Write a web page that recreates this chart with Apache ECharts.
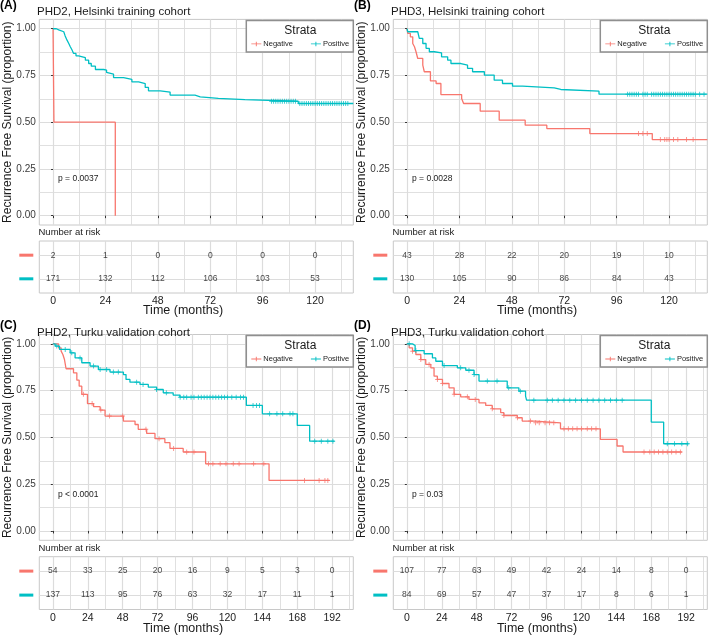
<!DOCTYPE html>
<html>
<head>
<meta charset="utf-8">
<title>Recurrence free survival by PHD2 / PHD3 status</title>
<script src="https://cdn.jsdelivr.net/npm/echarts@6/dist/echarts.min.js"></script>
<style>
  html, body { margin: 0; padding: 0; background: #fff; }
  #chart { width: 709px; height: 636px; }
</style>
</head>
<body>
<div id="chart"></div>
<script>
// Kaplan-Meier step points, [months, survival proportion]
const phd2HelsNeg = [[0, 1], [0.4, 0.5], [28.5, 0]];
const phd2HelsPos = [[0, 1], [1.5, 0.994], [2.6, 0.984], [4.9, 0.975], [5.5, 0.963], [6.4, 0.939], [7.2, 0.921],
  [7.9, 0.904], [8.7, 0.886], [9.4, 0.868], [10.5, 0.855], [11.7, 0.845], [14.8, 0.832], [16.3, 0.814],
  [17.5, 0.8], [19.4, 0.782], [23.2, 0.779], [24.5, 0.766], [25.4, 0.757], [27.7, 0.739], [32.3, 0.729],
  [36.1, 0.716], [39.2, 0.707], [42.2, 0.686], [43.7, 0.668], [49.1, 0.661], [53.6, 0.645], [65, 0.636],
  [67.4, 0.627], [75.7, 0.621], [87.9, 0.612], [112.3, 0.6], [137.5, 0.6]];

const phd3HelsNeg = [[0, 1], [0.3, 0.975], [1.5, 0.957], [2.6, 0.921], [3.4, 0.904], [4.1, 0.877], [4.9, 0.841],
  [7.2, 0.805], [7.9, 0.77], [10.7, 0.721], [13.3, 0.707], [15.5, 0.648], [25, 0.627], [25.9, 0.6],
  [33.5, 0.559], [42.2, 0.511], [54.1, 0.484], [64, 0.466], [83.7, 0.439], [112.3, 0.407], [137.5, 0.407]];
const phd3HelsPos = [[0, 1], [0.3, 0.984], [4.9, 0.975], [5.6, 0.948], [7.2, 0.921], [8.7, 0.895], [10.2, 0.877],
  [12.5, 0.871], [15.8, 0.85], [18.6, 0.832], [20.1, 0.814], [24.7, 0.805], [27.7, 0.788], [30, 0.77],
  [35.4, 0.752], [39.9, 0.725], [43.7, 0.707], [48.3, 0.693], [52.9, 0.684], [67.4, 0.675], [70.4, 0.666],
  [87.9, 0.65], [137.5, 0.65]];

const phd2TurkuNeg = [[0, 1], [3.9, 0.979], [5.7, 0.961], [6.9, 0.943], [8, 0.916], [9.1, 0.867], [14.2, 0.845],
  [16.5, 0.806], [18.1, 0.774], [19.9, 0.73], [23.8, 0.681], [28, 0.664], [32.5, 0.646], [35.9, 0.614],
  [48.5, 0.587], [56.5, 0.569], [58.7, 0.543], [64.5, 0.521], [70.2, 0.493], [77, 0.472], [80.5, 0.441],
  [89.6, 0.422], [105, 0.359], [148.6, 0.27], [190.2, 0.27]];
const phd2TurkuPos = [[0, 1], [1.6, 0.988], [4.6, 0.97], [11.9, 0.952], [15.3, 0.925], [19.9, 0.899], [25.6, 0.881],
  [31.3, 0.863], [39.3, 0.849], [48.5, 0.836], [50.3, 0.81], [53, 0.795], [59.9, 0.783], [65.6, 0.769],
  [71.3, 0.756], [75.9, 0.738], [82.7, 0.726], [87.3, 0.715], [133, 0.671], [144, 0.626], [168, 0.564],
  [176.5, 0.48], [193.6, 0.48]];

const phd3TurkuNeg = [[0, 1], [1.6, 0.979], [3.9, 0.961], [6.2, 0.943], [9.6, 0.916], [13, 0.89], [16.5, 0.872],
  [18.7, 0.827], [21, 0.81], [24.5, 0.788], [29, 0.765], [32.5, 0.73], [37, 0.717], [42.7, 0.703],
  [49.6, 0.685], [54.2, 0.671], [58.7, 0.653], [64.5, 0.632], [66.7, 0.617], [75.9, 0.605], [79.3, 0.587],
  [88.5, 0.578], [105.6, 0.546], [133, 0.489], [144.5, 0.454], [148.6, 0.422], [189, 0.422]];
const phd3TurkuPos = [[0, 1], [3.9, 0.991], [5.7, 0.964], [11.9, 0.947], [17.6, 0.925], [19.9, 0.907], [24.5, 0.884],
  [34.7, 0.872], [40.5, 0.859], [46.2, 0.836], [49.6, 0.801], [69, 0.765], [77, 0.747], [81.6, 0.721],
  [82.3, 0.699], [168, 0.582], [176.5, 0.466], [193.6, 0.466]];

// censoring times (months)
const phd2HelsNegCens = [];
const phd2HelsPosCens = [100, 101, 102, 103, 104, 105, 106, 107, 108, 109, 110, 111, 113, 114, 115, 116, 117, 118,
  119, 120, 121, 122, 123, 124, 125, 126, 127, 128, 129, 130, 131, 132, 133, 134, 135];
const phd3HelsNegCens = [106, 108, 110, 116, 118, 119, 120, 122, 124, 128, 131];
const phd3HelsPosCens = [101, 102, 103, 104, 105, 106, 108, 109, 110, 112, 113, 114, 115, 116, 117, 118, 119, 120,
  121, 122, 123, 124, 125, 126, 127, 128, 129, 130, 131, 132, 134, 136];
const phd2TurkuNegCens = [21, 27, 33, 39, 48, 64, 73, 83, 92, 97, 107, 110, 115, 119, 124, 128, 138, 145, 173,
  183, 187, 189];
const phd2TurkuPosCens = [2.7, 8.5, 13, 18.7, 28, 32.5, 37, 41.6, 45, 57.6, 62, 71.3, 78, 87.5, 90, 92, 95, 97,
  100, 102, 104, 106, 108, 110, 112, 114, 116, 118, 120, 123, 126, 129, 131, 137.6, 140, 142, 149, 154, 158,
  163, 165, 180, 184.5, 189, 192.5];
const phd3TurkuNegCens = [3.9, 9.6, 15.3, 21, 24.5, 32.5, 41.6, 47, 58.7, 66.7, 76, 85, 88.5, 91, 95, 98, 101,
  108, 111, 114, 117, 120, 124, 127, 130, 163, 167, 170, 173, 176, 179, 182, 185, 188];
const phd3TurkuPosCens = [1.6, 6.2, 25.6, 37, 42.7, 46.2, 55.3, 62, 70, 78, 87.3, 96.5, 100, 104, 108, 112, 116,
  120, 124, 128, 132, 136, 140, 144, 148, 179, 184, 189, 193];

// number at risk tables
const helsRiskTimes = [0, 24, 48, 72, 96, 120];
const turkuRiskTimes = [0, 24, 48, 72, 96, 120, 144, 168, 192];
const phd2HelsRiskNeg = [2, 1, 0, 0, 0, 0];
const phd2HelsRiskPos = [171, 132, 112, 106, 103, 53];
const phd3HelsRiskNeg = [43, 28, 22, 20, 19, 10];
const phd3HelsRiskPos = [130, 105, 90, 86, 84, 43];
const phd2TurkuRiskNeg = [54, 33, 25, 20, 16, 9, 5, 3, 0];
const phd2TurkuRiskPos = [137, 113, 95, 76, 63, 32, 17, 11, 1];
const phd3TurkuRiskNeg = [107, 77, 63, 49, 42, 24, 14, 8, 0];
const phd3TurkuRiskPos = [84, 69, 57, 47, 37, 17, 8, 6, 1];

// axis ticks
const helsMajor = [0, 24, 48, 72, 96, 120];
const helsMinor = [12, 36, 60, 84, 108, 132];
const turkuMajor = [0, 24, 48, 72, 96, 120, 144, 168, 192];
const turkuMinor = [12, 36, 60, 84, 108, 132, 156, 180, 204];
const survMajor = [0, 0.25, 0.5, 0.75, 1];
const survMinor = [0.125, 0.375, 0.625, 0.875];

const RED = '#F8766D';
const CYAN = '#00BFC4';
const GRIDC = '#dcdcdc';
const BORDER = '#c8c8c8';
const FONT = 'Liberation Sans, Arial, sans-serif';
const CROSS = 'path://M0,4H10V6H0Z M4,0H6V10H4Z';
const LEGEND_ICON = 'path://M0,4H22V6H0Z M10,0H12V10H10Z';

const rows = {
  hels: { plotTop: 19.4, plotH: 205.6, nar: 232.5, tableTop: 241, tableH: 52, time: 311, xMin: -6.3, xMax: 137.5,
    major: helsMajor, minor: helsMinor, times: helsRiskTimes },
  turku: { plotTop: 334.5, plotH: 205.8, nar: 548, tableTop: 556.7, tableH: 52.8, time: 628.5, xMin: -9.3, xMax: 206.5,
    major: turkuMajor, minor: turkuMinor, times: turkuRiskTimes }
};

const panels = [
  { tag: '(A)', title: 'PHD2, Helsinki training cohort', p: 'p = 0.0037', row: rows.hels, left: 39.3, tagY: 5.5,
    neg: phd2HelsNeg, pos: phd2HelsPos, negCens: phd2HelsNegCens, posCens: phd2HelsPosCens,
    riskNeg: phd2HelsRiskNeg, riskPos: phd2HelsRiskPos },
  { tag: '(B)', title: 'PHD3, Helsinki training cohort', p: 'p = 0.0028', row: rows.hels, left: 393.3, tagY: 5.5,
    neg: phd3HelsNeg, pos: phd3HelsPos, negCens: phd3HelsNegCens, posCens: phd3HelsPosCens,
    riskNeg: phd3HelsRiskNeg, riskPos: phd3HelsRiskPos },
  { tag: '(C)', title: 'PHD2, Turku validation cohort', p: 'p < 0.0001', row: rows.turku, left: 39.3, tagY: 326,
    neg: phd2TurkuNeg, pos: phd2TurkuPos, negCens: phd2TurkuNegCens, posCens: phd2TurkuPosCens,
    riskNeg: phd2TurkuRiskNeg, riskPos: phd2TurkuRiskPos },
  { tag: '(D)', title: 'PHD3, Turku validation cohort', p: 'p = 0.03', row: rows.turku, left: 393.3, tagY: 326,
    neg: phd3TurkuNeg, pos: phd3TurkuPos, negCens: phd3TurkuNegCens, posCens: phd3TurkuPosCens,
    riskNeg: phd3TurkuRiskNeg, riskPos: phd3TurkuRiskPos }
];
const PANEL_W = 314;

// survival value of a step curve at time t
function survAt(curve, t) {
  let s = curve[0][1];
  curve.forEach(([ti, si]) => { if (ti <= t) s = si; });
  return s;
}

const grid = [];
const xAxis = [];
const yAxis = [];
const series = [];
const legend = [];
const elements = [];

function text(x, y, str, size, extra) {
  elements.push(Object.assign({
    type: 'text', x, y, z: 20,
    style: Object.assign({ text: str, fontSize: size, fontFamily: FONT, fill: '#1a1a1a', align: 'left', verticalAlign: 'middle' },
      extra && extra.style)
  }, extra && extra.el));
}

panels.forEach((pn) => {
  const r = pn.row;
  const gPlot = grid.length;
  grid.push({ left: pn.left, top: r.plotTop, width: PANEL_W, height: r.plotH, show: true, borderColor: BORDER, borderWidth: 1 });
  grid.push({ left: pn.left, top: r.tableTop, width: PANEL_W, height: r.tableH, show: true, borderColor: BORDER, borderWidth: 1 });
  const gTable = gPlot + 1;

  const xi = xAxis.length;
  const xBase = { type: 'value', min: r.xMin, max: r.xMax, axisLine: { show: false } };
  // plot: major (with small ticks) and minor gridlines
  xAxis.push(Object.assign({}, xBase, { gridIndex: gPlot,
    axisTick: { show: true, length: 2.5, customValues: r.major, lineStyle: { color: '#333' } },
    axisLabel: { show: false },
    splitLine: { show: true, lineStyle: { color: GRIDC, width: 1.2 } } }));
  xAxis.push(Object.assign({}, xBase, { gridIndex: gPlot, position: 'top',
    axisTick: { show: false, customValues: r.minor }, axisLabel: { show: false },
    splitLine: { show: true, lineStyle: { color: GRIDC, width: 0.9 } } }));
  // risk table x axes
  xAxis.push(Object.assign({}, xBase, { gridIndex: gTable,
    axisTick: { show: false, customValues: r.major },
    axisLabel: { customValues: r.major, fontSize: 10.5, color: '#222', margin: 3, fontFamily: FONT },
    splitLine: { show: true, lineStyle: { color: GRIDC, width: 1.2 } } }));
  xAxis.push(Object.assign({}, xBase, { gridIndex: gTable, position: 'top',
    axisTick: { show: false, customValues: r.minor }, axisLabel: { show: false },
    splitLine: { show: true, lineStyle: { color: GRIDC, width: 0.9 } } }));

  const yi = yAxis.length;
  yAxis.push({ type: 'value', gridIndex: gPlot, min: -0.05, max: 1.05, axisLine: { show: false },
    axisTick: { show: true, length: 2, customValues: survMajor, lineStyle: { color: '#333' } },
    axisLabel: { customValues: survMajor, formatter: (v) => v.toFixed(2), fontSize: 10, color: '#3a3a3a', margin: 3.5, fontFamily: FONT },
    splitLine: { show: true, lineStyle: { color: GRIDC, width: 1.2 } } });
  yAxis.push({ type: 'value', gridIndex: gPlot, position: 'right', min: -0.05, max: 1.05, axisLine: { show: false },
    axisTick: { show: false, customValues: survMinor }, axisLabel: { show: false },
    splitLine: { show: true, lineStyle: { color: GRIDC, width: 0.9 } } });
  yAxis.push({ type: 'value', gridIndex: gTable, min: 0.4, max: 2.6, axisLine: { show: false },
    axisTick: { show: false, customValues: [1, 2] },
    axisLabel: { customValues: [1, 2], margin: 6,
      formatter: (v) => (v === 2 ? '{neg|\u00a0}' : '{pos|\u00a0}'),
      rich: { neg: { backgroundColor: RED, width: 14, height: 3, lineHeight: 3 },
              pos: { backgroundColor: CYAN, width: 14, height: 3, lineHeight: 3 } } },
    splitLine: { show: true, lineStyle: { color: GRIDC, width: 1.2 } } });

  // curves and censor marks
  [['Negative', pn.neg, pn.negCens, RED], ['Positive', pn.pos, pn.posCens, CYAN]].forEach(([name, curve, cens, col]) => {
    series.push({ type: 'line', name, xAxisIndex: xi, yAxisIndex: yi, data: curve, step: 'end',
      symbol: CROSS, showSymbol: false, color: col, lineStyle: { width: 1.3 }, z: 3, silent: true });
    if (cens.length) {
      series.push({ type: 'scatter', name, xAxisIndex: xi, yAxisIndex: yi,
        data: cens.map((t) => [t, survAt(curve, t)]), symbol: CROSS, symbolSize: [4.5, 5], color: col, z: 4, silent: true });
    }
  });

  // number at risk
  [[2, pn.riskNeg], [1, pn.riskPos]].forEach(([rowVal, counts]) => {
    series.push({ type: 'scatter', name: 'at risk', xAxisIndex: xi + 2, yAxisIndex: yi + 2,
      data: r.times.map((t, i) => [t, rowVal, counts[i]]), symbolSize: 0, silent: true,
      itemStyle: { color: 'transparent' },
      label: { show: true, position: 'inside', formatter: (d) => String(d.value[2]), fontSize: 8.5, color: '#111', fontFamily: FONT } });
  });

  // legend box with "Strata"
  const bx = pn.left + PANEL_W - 107;
  elements.push({ type: 'rect', z: 1, shape: { x: bx, y: r.plotTop + 1, width: 107, height: 31.5 },
    style: { fill: '#fff', stroke: '#8f8f8f', lineWidth: 1.5 } });
  text(bx + 54, r.plotTop + 11.5, 'Strata', 12, { style: { align: 'center' } });
  legend.push({ left: bx + 5, top: r.plotTop + 20.5, padding: 0, itemWidth: 10, itemHeight: 5, itemGap: 18,
    icon: LEGEND_ICON, selectedMode: false, z: 10, data: ['Negative', 'Positive'],
    textStyle: { fontSize: 7.5, color: '#222', fontFamily: FONT, padding: [0, 0, 0, -3] } });

  // panel texts
  const ox = pn.left - 39.3;
  text(ox + 0, pn.tagY, pn.tag, 12, { style: { fontWeight: 'bold', fill: '#000' } });
  text(ox + 37, pn.tagY + 6.5, pn.title, 11.5);
  text(ox + 7.5, r.plotTop + r.plotH / 2, 'Recurrence Free Survival (proportion)', 12,
    { style: { align: 'center' }, el: { rotation: Math.PI / 2 } });
  text(ox + 58, r.plotTop + 9.3 + (1 - 0.195) * 186.6 * (r.plotH / 205.6), pn.p, 8.5, { style: { fill: '#222' } });
  text(ox + 38.5, r.nar, 'Number at risk', 9.5);
  text(ox + 183, r.time, 'Time (months)', 12.5, { style: { align: 'center' } });
});

const chart = echarts.init(document.getElementById('chart'));
chart.setOption({
  animation: false,
  textStyle: { fontFamily: FONT },
  grid, xAxis, yAxis, series, legend,
  graphic: { elements }
});
</script>
</body>
</html>
